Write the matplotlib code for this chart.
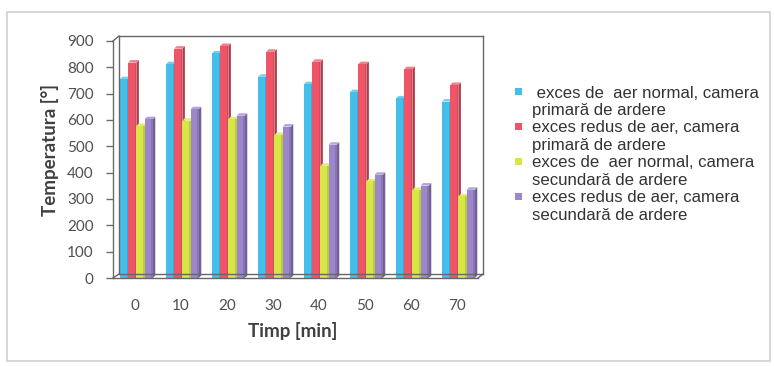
import matplotlib
matplotlib.use("Agg")
import matplotlib.pyplot as plt
from matplotlib.patches import Polygon, Rectangle
from matplotlib.lines import Line2D
from matplotlib.colors import to_rgb
import numpy as np

# Data: temperature in the combustion chambers over time
timp = [0, 10, 20, 30, 40, 50, 60, 70]
aer_normal_primara = [755, 812, 853, 764, 736, 706, 682, 670]
aer_redus_primara = [818, 871, 881, 859, 821, 812, 793, 733]
aer_normal_secundara = [577, 597, 603, 543, 426, 367, 335, 310]
aer_redus_secundara = [603, 641, 616, 575, 506, 392, 351, 335]

serii = [
    (" exces de  aer normal, camera\nprimară de ardere", aer_normal_primara, "#45BFEA"),
    ("exces redus de aer, camera\nprimară de ardere", aer_redus_primara, "#EF5467"),
    ("exces de  aer normal, camera\nsecundară de ardere", aer_normal_secundara, "#D6E647"),
    ("exces redus de aer, camera\nsecundară de ardere", aer_redus_secundara, "#9C86CC"),
]
y_ticks = list(range(0, 1000, 100))

W, H = 774, 366
fig = plt.figure(figsize=(W / 100, H / 100), dpi=100)
fig.patch.set_facecolor("white")


def fx(px):
    return px / W


def fy(py):
    return 1 - py / H


# axes frame in pixel terms
ax_l, ax_r, ax_b, ax_t = 113, 483, 278, 41
ax = fig.add_axes([fx(ax_l), fy(ax_b), fx(ax_r - ax_l), (ax_b - ax_t) / H])
ax.set_facecolor("none")

step = 46.0
ax.set_xlim((ax_l - 135) / step, (ax_r - 135) / step)
ax.set_ylim(0, 900)

x = np.arange(len(timp))
bw = 0.178
offsets = [(k - 1.5) * bw + 0.03 for k in range(4)]

# depth of the pseudo-3D faces, in data units
ddx = 2.5 / step
ddy = 2.5 * 900 / (ax_b - ax_t)


def shade(c, f):
    r, g, b = to_rgb(c)
    if f < 1:
        return (r * f, g * f, b * f)
    return (r + (1 - r) * (f - 1), g + (1 - g) * (f - 1), b + (1 - b) * (f - 1))


for k, (lab, vals, col) in enumerate(serii):
    bars = ax.bar(x + offsets[k], vals, width=bw, color=col, edgecolor="none",
                  zorder=3 + k * 0.1 + 0.05, label=lab)
    for b in bars:
        x0, w, h = b.get_x(), b.get_width(), b.get_height()
        side = Polygon([(x0 + w, 0), (x0 + w + ddx, ddy), (x0 + w + ddx, h + ddy), (x0 + w, h)],
                       closed=True, facecolor=shade(col, 0.72), edgecolor="none",
                       zorder=3 + k * 0.1)
        top = Polygon([(x0, h), (x0 + ddx, h + ddy), (x0 + w + ddx, h + ddy), (x0 + w, h)],
                      closed=True, facecolor=shade(col, 1.25), edgecolor="none",
                      zorder=3 + k * 0.1)
        ax.add_patch(side)
        ax.add_patch(top)
        # darker strip at the right edge of the front face
        ax.add_patch(Rectangle((x0 + w * 0.8, 0), w * 0.2, h, facecolor=shade(col, 0.88),
                               edgecolor="none", zorder=3 + k * 0.1 + 0.06))

for s in ["top", "right", "bottom"]:
    ax.spines[s].set_visible(False)
ax.spines["left"].set_color("#6b6b6b")
ax.spines["left"].set_linewidth(1.0)

ax.set_yticks(y_ticks)
ax.set_xticks(x)
ax.set_xticklabels([str(t) for t in timp])
for t in ax.get_yticklabels() + ax.get_xticklabels():
    t.set_fontfamily("Lato")
    t.set_fontsize(11)
    t.set_color("#505050")
ax.tick_params(axis="y", length=5, width=1, color="#6b6b6b", pad=9)
ax.tick_params(axis="x", length=0, pad=15)

ax.set_ylabel("Temperatura [°]", family="Lato", weight="bold", size=13.5, color="#404040",
              va="center")
ax.yaxis.set_label_coords((50 - ax_l) / (ax_r - ax_l), (ax_b - 150) / (ax_b - ax_t))
ax.set_xlabel("Timp [min]", family="Lato", weight="bold", size=13.5, color="#404040", va="center")
ax.xaxis.set_label_coords((293 - ax_l) / (ax_r - ax_l), (ax_b - 331) / (ax_b - ax_t))

# back wall and floor outline
box = "#666666"
segs = [
    [(119, 36), (483, 36)],
    [(119, 36), (119, 274)],
    [(483, 36), (483, 274)],
    [(113, 41), (119, 36)],
    [(119, 274), (483, 274)],
    [(113, 278), (478, 278)],
    [(113, 278), (119, 274)],
    [(478, 278), (483, 274)],
]
for (a, b) in segs:
    fig.add_artist(Line2D([fx(a[0]), fx(b[0])], [fy(a[1]), fy(b[1])], color=box, lw=1.0,
                          transform=fig.transFigure, zorder=1))

# outer chart frame
fig.add_artist(Rectangle((fx(7), fy(361)), fx(763), (361 - 12) / H, transform=fig.transFigure,
                         facecolor="none", edgecolor="#cfcfcf", lw=1.2, zorder=0))

# legend: square marker beside the first line of each two-line entry
line_pitch = 17.4
first_line = 91.7
for k, (lab, _, col) in enumerate(serii):
    yc = first_line + 2 * k * line_pitch
    fig.add_artist(Rectangle((fx(515), fy(yc + 3.5)), fx(7), 7 / H, transform=fig.transFigure,
                             facecolor=col, edgecolor="none"))
    for j, line in enumerate(lab.split("\n")):
        fig.text(fx(532), fy(yc + j * line_pitch), line, family="Liberation Sans", size=12.1,
                 color="#333333", ha="left", va="center_baseline")

fig.savefig("out.png", dpi=100)
